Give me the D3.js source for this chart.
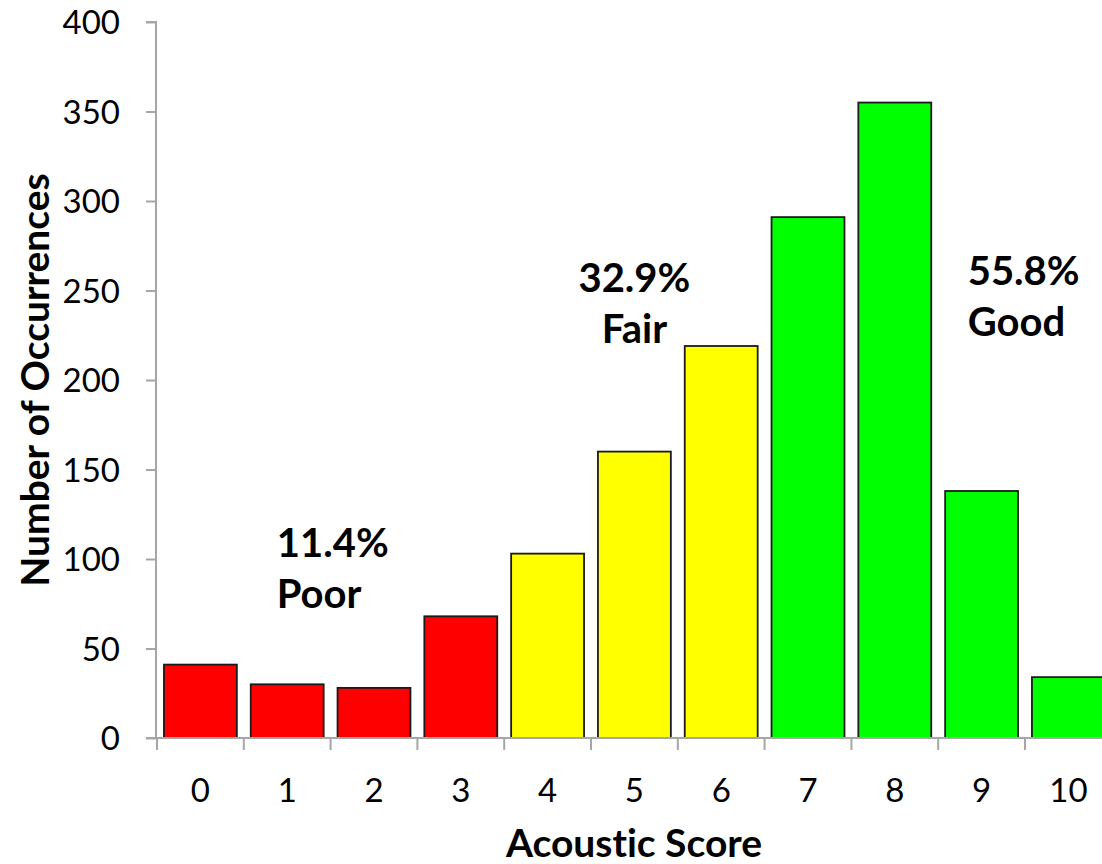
<!DOCTYPE html>
<html>
<head>
<meta charset="utf-8">
<script src="https://cdn.jsdelivr.net/npm/d3@7"></script>
<style>
  html, body { margin: 0; padding: 0; background: #fff; overflow: hidden; }
  svg { display: block; }
  text { font-family: Lato, "Open Sans", sans-serif; fill: #000; font-variant-ligatures: none; }
</style>
</head>
<body>
<svg id="chart" width="1102" height="864"></svg>
<script>
const categories = ["0","1","2","3","4","5","6","7","8","9","10"];
const counts = [41, 30, 28, 68, 103, 160, 219, 291, 355, 138, 34];
const groups = ["Poor","Poor","Poor","Poor","Fair","Fair","Fair","Good","Good","Good","Good"];
const groupColors = { Poor: "#ff0000", Fair: "#ffff00", Good: "#00ff00" };
const yTicks = [0, 50, 100, 150, 200, 250, 300, 350, 400];
const annotations = [
  { pct: "11.4%", label: "Poor", x: 1.38, y: 101, anchor: "start" },
  { pct: "32.9%", label: "Fair", x: 5.5, y: 249, anchor: "middle" },
  { pct: "55.8%", label: "Good", x: 9.34, y: 253, anchor: "start" }
];

const svg = d3.select("#chart");
const plotLeft = 157, plotBottom = 738, plotTop = 22;
const bandW = 86.8;
const x = d3.scaleBand().domain(categories)
  .range([plotLeft, plotLeft + bandW * categories.length])
  .paddingInner(0.16).paddingOuter(0.08);
const y = d3.scaleLinear().domain([0, 400]).range([plotBottom, plotTop]);
const axisColor = "#a6a6a6";

// bars
svg.append("g").selectAll("rect").data(counts).join("rect")
  .attr("x", (d, i) => x(categories[i]))
  .attr("y", d => y(d))
  .attr("width", x.bandwidth())
  .attr("height", d => y(0) - y(d))
  .attr("fill", (d, i) => groupColors[groups[i]])
  .attr("stroke", "#1a1a1a")
  .attr("stroke-width", 1.8);

// y axis
const yAxis = d3.axisLeft(y).tickValues(yTicks).tickSize(10).tickPadding(26);
const gy = svg.append("g").attr("transform", `translate(${plotLeft - 1},0)`).call(yAxis);
gy.select(".domain").attr("stroke", axisColor).attr("stroke-width", 2).attr("d", `M-10,${y(400)}H0V${y(0)}`);
gy.selectAll(".tick line").attr("stroke", axisColor).attr("stroke-width", 2);
gy.selectAll(".tick text").style("font-size", "33px").attr("font-family", null).attr("dy", "0.36em");

// x axis
const xOuter = d3.scaleLinear().domain([0, categories.length]).range([plotLeft, plotLeft + bandW * categories.length]);
const gx = svg.append("g");
gx.append("line").attr("x1", plotLeft - 11).attr("x2", 1102).attr("y1", plotBottom).attr("y2", plotBottom)
  .attr("stroke", axisColor).attr("stroke-width", 2);
gx.selectAll("line.tk").data(d3.range(categories.length + 1)).join("line").attr("class", "tk")
  .attr("x1", d => xOuter(d)).attr("x2", d => xOuter(d))
  .attr("y1", plotBottom).attr("y2", plotBottom + 12)
  .attr("stroke", axisColor).attr("stroke-width", 2);
gx.selectAll("text").data(categories).join("text")
  .attr("x", d => x(d) + x.bandwidth() / 2)
  .attr("y", 802)
  .attr("text-anchor", "middle")
  .style("font-size", "33px")
  .text(d => d);

// axis titles
svg.append("text").attr("x", 634).attr("y", 857).attr("text-anchor", "middle")
  .style("font-size", "39px").style("font-weight", "bold").text("Acoustic Score");
svg.append("text").attr("transform", `translate(49,380) rotate(-90)`).attr("text-anchor", "middle")
  .style("font-size", "39px").style("font-weight", "bold").text("Number of Occurrences");

// annotations
const ann = svg.append("g").selectAll("g").data(annotations).join("g");
ann.append("text")
  .attr("x", d => xOuter(d.x))
  .attr("y", d => y(d.y))
  .attr("text-anchor", d => d.anchor)
  .style("font-size", "40px").style("font-weight", "bold")
  .text(d => d.pct);
ann.append("text")
  .attr("x", d => xOuter(d.x))
  .attr("y", d => y(d.y) + 51)
  .attr("text-anchor", d => d.anchor)
  .style("font-size", "40px").style("font-weight", "bold")
  .text(d => d.label);
</script>
</body>
</html>
